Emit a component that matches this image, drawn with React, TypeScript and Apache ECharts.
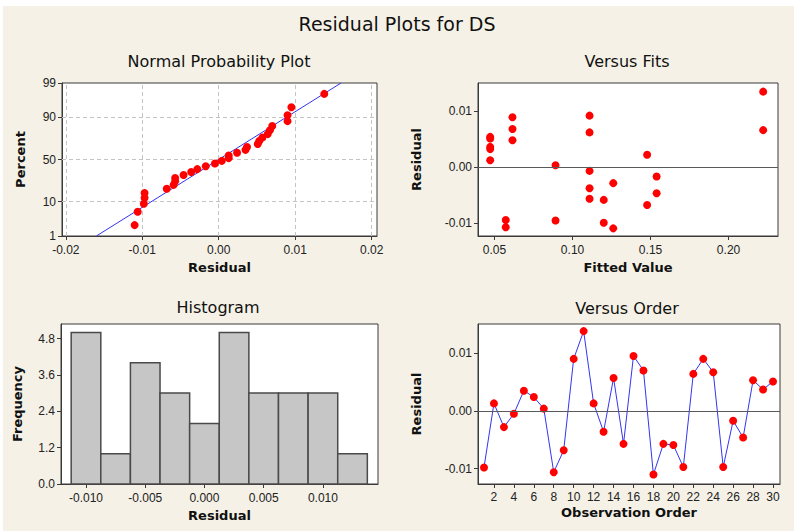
import React, { useEffect, useRef } from "react";
import * as echarts from "echarts";

// ---- Data ----
const observation = [1, 2, 3, 4, 5, 6, 7, 8, 9, 10, 11, 12, 13, 14, 15, 16, 17, 18, 19, 20, 21, 22, 23, 24, 25, 26, 27, 28, 29, 30];
const residuals = [
  -0.0098, 0.0013, -0.0028, -0.0005, 0.0035, 0.0024, 0.0004, -0.0106, -0.0068, 0.009,
  0.0138, 0.0013, -0.0036, 0.0057, -0.0057, 0.0095, 0.007, -0.011, -0.0057, -0.0059,
  -0.0097, 0.0064, 0.009, 0.0067, -0.0097, -0.0017, -0.0046, 0.0053, 0.0037, 0.0051,
];

const fitsX = [
  0.0472, 0.0472, 0.0472, 0.0472, 0.0472,
  0.0572, 0.0572,
  0.0615, 0.0615, 0.0615,
  0.0891, 0.0891,
  0.1109, 0.1109, 0.1109, 0.1109, 0.1109,
  0.12, 0.12,
  0.1261, 0.1261,
  0.1478, 0.1478,
  0.1539, 0.1539,
  0.2222, 0.2222,
];
const fitsResid = [
  0.0054, 0.0051, 0.0036, 0.0032, 0.0012,
  -0.0095, -0.0108,
  0.0089, 0.0068, 0.0048,
  0.0003, -0.0096,
  0.0092, 0.0062, -0.0007, -0.0038, -0.0057,
  -0.0059, -0.01,
  -0.0029, -0.011,
  0.0022, -0.0068,
  -0.0017, -0.0047,
  0.0135, 0.0066,
];

const histCenters = [-0.01, -0.0075, -0.005, -0.0025, 0.0, 0.0025, 0.005, 0.0075, 0.01, 0.0125];
const histCounts = [5, 1, 4, 3, 2, 5, 3, 3, 3, 1];
const binWidth = 0.0025;
const freqTicks = [0, 1.2, 2.4, 3.6, 4.8];

const normLineX = [-0.016, 0.016];
const normLinePct = [1, 99];
const probTickPct = [1, 10, 50, 90, 99];
const probGridPct = [10, 50, 90];
const normGridX = [-0.02, -0.015, -0.01, -0.005, 0, 0.005, 0.01, 0.015, 0.02];
const normXTicks = [-0.02, -0.01, 0, 0.01, 0.02];
const fitsXTicks = [0.05, 0.1, 0.15, 0.2];
const residTicks = [-0.01, 0, 0.01];
const histXTicks = [-0.01, -0.005, 0, 0.005, 0.01];
const orderTicks = [2, 4, 6, 8, 10, 12, 14, 16, 18, 20, 22, 24, 26, 28, 30];

// inverse standard normal CDF (Acklam) — maps percent to the probability scale
function invNorm(p: number): number {
  const a = [-3.969683028665376e1, 2.209460984245205e2, -2.759285104469687e2, 1.38357751867269e2, -3.066479806614716e1, 2.506628277459239];
  const b = [-5.447609879822406e1, 1.615858368580409e2, -1.556989798598866e2, 6.680131188771972e1, -1.328068155288572e1];
  const c = [-7.784894002430293e-3, -3.223964580411365e-1, -2.400758277161838, -2.549732539343734, 4.374664141464968, 2.938163982698783];
  const d = [7.784695709041462e-3, 3.224671290700398e-1, 2.445134137142996, 3.754408661907416];
  const pl = 0.02425;
  let q: number, r: number;
  if (p < pl) {
    q = Math.sqrt(-2 * Math.log(p));
    return (((((c[0] * q + c[1]) * q + c[2]) * q + c[3]) * q + c[4]) * q + c[5]) / ((((d[0] * q + d[1]) * q + d[2]) * q + d[3]) * q + 1);
  }
  if (p > 1 - pl) {
    q = Math.sqrt(-2 * Math.log(1 - p));
    return -(((((c[0] * q + c[1]) * q + c[2]) * q + c[3]) * q + c[4]) * q + c[5]) / ((((d[0] * q + d[1]) * q + d[2]) * q + d[3]) * q + 1);
  }
  q = p - 0.5;
  r = q * q;
  return ((((((a[0] * r + a[1]) * r + a[2]) * r + a[3]) * r + a[4]) * r + a[5]) * q) / (((((b[0] * r + b[1]) * r + b[2]) * r + b[3]) * r + b[4]) * r + 1);
}
const zOf = (pct: number) => invNorm(pct / 100);

const FONT = "Liberation Sans, Arial, sans-serif";
const TFONT = "DejaVu Sans, Verdana, sans-serif";
const FRAME = "#3a3a3a";

export default function App() {
  const ref = useRef<HTMLDivElement>(null);
  useEffect(() => {
    if (!ref.current) return;
    const chart = echarts.init(ref.current, undefined, { renderer: "svg" });

    const n = residuals.length;
    const sorted = [...residuals].sort((a, b) => a - b);
    const probPoints = sorted.map((r, i) => [r, zOf(((i + 1 - 0.3) / (n + 0.4)) * 100)]);

    const axisBase = (extra: any) => ({
      type: "value",
      axisLine: { show: true, onZero: false, lineStyle: { color: FRAME, width: 1 } },
      splitLine: { show: false },
      nameTextStyle: { fontFamily: TFONT, fontWeight: "bold", fontSize: 13, color: "#111" },
      nameLocation: "middle",
      ...extra,
      axisTick: { show: true, length: 4, lineStyle: { color: FRAME }, customValues: extra.ticks },
      axisLabel: { color: "#222", fontFamily: FONT, fontSize: 12, customValues: extra.ticks, ...(extra.axisLabel || {}) },
    });

    const zMin = zOf(1);
    const zMax = zOf(99);
    const probTickZ = probTickPct.map(zOf);
    const dot = { color: "#ff0000", opacity: 1 };

    const option: any = {
      animation: false,
      backgroundColor: "#ffffff",
      graphic: [
        { type: "rect", z: -100, silent: true, shape: { x: 3, y: 6, width: 791, height: 525 }, style: { fill: "#f5f1e6" } },
        { type: "text", x: 397, y: 24, style: { text: "Residual Plots for DS", fontFamily: TFONT, fontSize: 19, fill: "#111", textAlign: "center", textVerticalAlign: "middle" } },
        { type: "text", x: 219, y: 61, style: { text: "Normal Probability Plot", fontFamily: TFONT, fontSize: 16, fill: "#111", textAlign: "center", textVerticalAlign: "middle" } },
        { type: "text", x: 627, y: 61, style: { text: "Versus Fits", fontFamily: TFONT, fontSize: 16, fill: "#111", textAlign: "center", textVerticalAlign: "middle" } },
        { type: "text", x: 218, y: 307, style: { text: "Histogram", fontFamily: TFONT, fontSize: 16, fill: "#111", textAlign: "center", textVerticalAlign: "middle" } },
        { type: "text", x: 627, y: 308, style: { text: "Versus Order", fontFamily: TFONT, fontSize: 16, fill: "#111", textAlign: "center", textVerticalAlign: "middle" } },
      ],
      grid: [
        { left: 62, top: 83, width: 315, height: 153, show: true, backgroundColor: "#fff", borderColor: FRAME, borderWidth: 1 },
        { left: 478, top: 83, width: 300, height: 153, show: true, backgroundColor: "#fff", borderColor: FRAME, borderWidth: 1 },
        { left: 61, top: 324, width: 317, height: 160, show: true, backgroundColor: "#fff", borderColor: FRAME, borderWidth: 1 },
        { left: 478, top: 324, width: 302, height: 160, show: true, backgroundColor: "#fff", borderColor: FRAME, borderWidth: 1 },
      ],
      xAxis: [
        axisBase({
          gridIndex: 0, min: -0.0205, max: 0.0207, name: "Residual", nameGap: 25, ticks: normXTicks,
          axisLabel: { margin: 8, formatter: (v: number) => v.toFixed(2) },
        }),
        axisBase({
          gridIndex: 1, min: 0.0394, max: 0.2317, name: "Fitted Value", nameGap: 25, ticks: fitsXTicks,
          axisLabel: { margin: 8, formatter: (v: number) => v.toFixed(2) },
        }),
        axisBase({
          gridIndex: 2, min: -0.01211, max: 0.01465, name: "Residual", nameGap: 25, ticks: histXTicks,
          axisLabel: { margin: 8, formatter: (v: number) => v.toFixed(3) },
        }),
        axisBase({
          gridIndex: 3, min: 0.4, max: 30.7, name: "Observation Order", nameGap: 22, ticks: orderTicks,
          axisLabel: { margin: 7, formatter: (v: number) => String(Math.round(v)) },
        }),
      ],
      yAxis: [
        axisBase({
          gridIndex: 0, min: zMin, max: zMax, name: "Percent", nameGap: 35, ticks: probTickZ,
          axisLabel: {
            margin: 6,
            formatter: (v: number) => {
              let best = 0;
              probTickZ.forEach((z, i) => { if (Math.abs(z - v) < Math.abs(probTickZ[best] - v)) best = i; });
              return String(probTickPct[best]);
            },
          },
        }),
        axisBase({
          gridIndex: 1, min: -0.01237, max: 0.01505, name: "Residual", nameGap: 55, ticks: residTicks,
          axisLabel: { margin: 6, formatter: (v: number) => v.toFixed(2) },
        }),
        axisBase({
          gridIndex: 2, min: 0, max: 5.28, name: "Frequency", nameGap: 37, ticks: freqTicks,
          axisLabel: { margin: 6, formatter: (v: number) => v.toFixed(1) },
        }),
        axisBase({
          gridIndex: 3, min: -0.01264, max: 0.01503, name: "Residual", nameGap: 55, ticks: residTicks,
          axisLabel: { margin: 6, formatter: (v: number) => v.toFixed(2) },
        }),
      ],
      series: [
        {
          type: "line", xAxisIndex: 0, yAxisIndex: 0, z: 2,
          data: normLineX.map((x, i) => [x, zOf(normLinePct[i])]),
          symbol: "none", lineStyle: { color: "#3434f0", width: 1 },
          markLine: {
            silent: true, symbol: "none", label: { show: false }, z: 1,
            lineStyle: { type: [4, 3], color: "#c4c4c4", width: 1 },
            data: [
              ...normGridX.map((x) => ({ xAxis: x })),
              ...probGridPct.map((p) => ({ yAxis: zOf(p) })),
            ],
          },
        },
        {
          type: "scatter", xAxisIndex: 0, yAxisIndex: 0, z: 3,
          data: probPoints, symbolSize: 8, itemStyle: dot,
        },
        {
          type: "scatter", xAxisIndex: 1, yAxisIndex: 1, z: 3,
          data: fitsX.map((x, i) => [x, fitsResid[i]]), symbolSize: 8, itemStyle: dot,
          markLine: {
            silent: true, symbol: "none", label: { show: false },
            lineStyle: { type: "solid", color: "#5a5a5a", width: 1 },
            data: [{ yAxis: 0 }],
          },
        },
        {
          type: "custom", xAxisIndex: 2, yAxisIndex: 2,
          data: histCenters.map((c, i) => [c - binWidth / 2, c + binWidth / 2, histCounts[i]]),
          encode: { x: [0, 1], y: 2 },
          renderItem: (params: any, api: any) => {
            const p0 = api.coord([api.value(0), api.value(2)]);
            const p1 = api.coord([api.value(1), 0]);
            return {
              type: "rect",
              shape: { x: p0[0], y: p0[1], width: p1[0] - p0[0], height: p1[1] - p0[1] },
              style: { fill: "#c6c6c6", stroke: "#4a4a4a", lineWidth: 1.5 },
            };
          },
        },
        {
          type: "line", xAxisIndex: 3, yAxisIndex: 3, z: 3,
          data: observation.map((o, i) => [o, residuals[i]]),
          symbol: "circle", symbolSize: 8, showAllSymbol: true,
          itemStyle: dot,
          lineStyle: { color: "#3434f0", width: 1 },
          markLine: {
            silent: true, symbol: "none", label: { show: false },
            lineStyle: { type: "solid", color: "#5a5a5a", width: 1 },
            data: [{ yAxis: 0 }],
          },
        },
      ],
    };
    chart.setOption(option);
    return () => chart.dispose();
  }, []);
  return <div ref={ref} style={{ position: "fixed", left: 0, top: 0, width: 798, height: 531 }} />;
}
